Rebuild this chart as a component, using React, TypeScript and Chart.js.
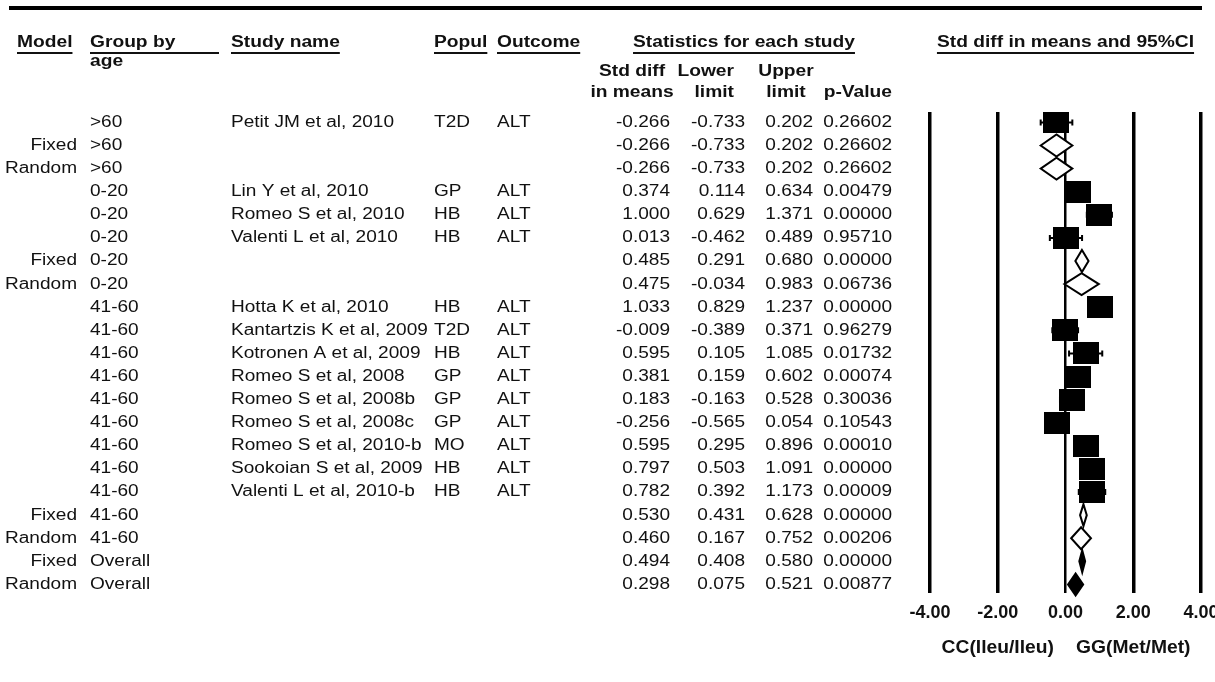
import React, { useEffect, useRef } from 'react';
import { Chart, registerables } from 'chart.js';

Chart.register(...registerables);

// ---------- data ----------
const models = ['', 'Fixed', 'Random', '', '', '', 'Fixed', 'Random', '', '', '', '', '', '', '', '', '', 'Fixed', 'Random', 'Fixed', 'Random'];
const groups = ['>60', '>60', '>60', '0-20', '0-20', '0-20', '0-20', '0-20', '41-60', '41-60', '41-60', '41-60', '41-60', '41-60', '41-60', '41-60', '41-60', '41-60', '41-60', 'Overall', 'Overall'];
const studies = ['Petit JM et al, 2010', '', '', 'Lin Y et al, 2010', 'Romeo S et al, 2010', 'Valenti L et al, 2010', '', '', 'Hotta K et al, 2010', 'Kantartzis K et al, 2009', 'Kotronen A et al, 2009', 'Romeo S et al, 2008', 'Romeo S et al, 2008b', 'Romeo S et al, 2008c', 'Romeo S et al, 2010-b', 'Sookoian S et al, 2009', 'Valenti L et al, 2010-b', '', '', '', ''];
const populations = ['T2D', '', '', 'GP', 'HB', 'HB', '', '', 'HB', 'T2D', 'HB', 'GP', 'GP', 'GP', 'MO', 'HB', 'HB', '', '', '', ''];
const outcomes = ['ALT', '', '', 'ALT', 'ALT', 'ALT', '', '', 'ALT', 'ALT', 'ALT', 'ALT', 'ALT', 'ALT', 'ALT', 'ALT', 'ALT', '', '', '', ''];
const stdDiff = [-0.266, -0.266, -0.266, 0.374, 1.0, 0.013, 0.485, 0.475, 1.033, -0.009, 0.595, 0.381, 0.183, -0.256, 0.595, 0.797, 0.782, 0.53, 0.46, 0.494, 0.298];
const lowerLimit = [-0.733, -0.733, -0.733, 0.114, 0.629, -0.462, 0.291, -0.034, 0.829, -0.389, 0.105, 0.159, -0.163, -0.565, 0.295, 0.503, 0.392, 0.431, 0.167, 0.408, 0.075];
const upperLimit = [0.202, 0.202, 0.202, 0.634, 1.371, 0.489, 0.68, 0.983, 1.237, 0.371, 1.085, 0.602, 0.528, 0.054, 0.896, 1.091, 1.173, 0.628, 0.752, 0.58, 0.521];
const pValues = ['0.26602', '0.26602', '0.26602', '0.00479', '0.00000', '0.95710', '0.00000', '0.06736', '0.00000', '0.96279', '0.01732', '0.00074', '0.30036', '0.10543', '0.00010', '0.00000', '0.00009', '0.00000', '0.00206', '0.00000', '0.00877'];
const xTickValues = [-4, -2, 0, 2, 4];
const xTickLabels = ['-4.00', '-2.00', '0.00', '2.00', '4.00'];
const sideLabels = ['CC(Ileu/Ileu)', 'GG(Met/Met)'];
const sideLabelValues = [-2, 2];

// ---------- layout / style ----------
const W = 1215;
const H = 682;
const FAMILY = '"Liberation Sans", Arial, sans-serif';
const REG = `16px ${FAMILY}`;
const BOLD = `bold 16px ${FAMILY}`;
const SX_REG = 1.19;
const SX_BOLD = 1.2;
const COL = { modelRight: 77, group: 90, study: 231, popul: 434, outcome: 497, est: 670, lo: 745, hi: 813, p: 892 };
const SQ_W = 26;
const SQ_H = 22;
const DIA_H = 22;

function txt(ctx: CanvasRenderingContext2D, s: string, x: number, y: number, align: CanvasTextAlign, font: string, sx: number, underline = false) {
  ctx.save();
  ctx.font = font;
  ctx.textBaseline = 'middle';
  ctx.textAlign = align;
  ctx.fillStyle = '#111';
  ctx.translate(x, y);
  ctx.scale(sx, 1);
  ctx.fillText(s, 0, 0);
  const w = ctx.measureText(s).width;
  ctx.restore();
  if (underline) {
    const tw = w * sx;
    let x0 = x;
    if (align === 'center') x0 = x - tw / 2;
    else if (align === 'right') x0 = x - tw;
    ctx.save();
    ctx.strokeStyle = '#111';
    ctx.lineWidth = 2;
    ctx.beginPath();
    ctx.moveTo(x0, y + 10);
    ctx.lineTo(x0 + tw, y + 10);
    ctx.stroke();
    ctx.restore();
  }
}

const forestPlugin = {
  id: 'forest',
  beforeDraw(chart: any) {
    const ctx = chart.ctx;
    ctx.save();
    ctx.fillStyle = '#fff';
    ctx.fillRect(0, 0, chart.width, chart.height);
    ctx.restore();
  },
  beforeDatasetsDraw(chart: any) {
    const ctx = chart.ctx;
    const xs = chart.scales.x;
    const ys = chart.scales.y;
    ctx.save();
    ctx.strokeStyle = '#000';
    ctx.lineWidth = 2;
    studies.forEach((s, i) => {
      if (!s) return;
      const y = ys.getPixelForValue(i);
      const a = xs.getPixelForValue(lowerLimit[i]);
      const b = xs.getPixelForValue(upperLimit[i]);
      ctx.beginPath();
      ctx.moveTo(a, y);
      ctx.lineTo(b, y);
      ctx.moveTo(a, y - 3);
      ctx.lineTo(a, y + 3);
      ctx.moveTo(b, y - 3);
      ctx.lineTo(b, y + 3);
      ctx.stroke();
    });
    ctx.restore();
  },
  afterDatasetsDraw(chart: any) {
    const ctx = chart.ctx;
    const xs = chart.scales.x;
    const ys = chart.scales.y;
    ctx.save();
    ctx.lineWidth = 2;
    ctx.strokeStyle = '#000';
    models.forEach((m, i) => {
      if (!m) return;
      const y = ys.getPixelForValue(i);
      const a = xs.getPixelForValue(lowerLimit[i]);
      const b = xs.getPixelForValue(upperLimit[i]);
      const c = xs.getPixelForValue(stdDiff[i]);
      ctx.beginPath();
      ctx.moveTo(a, y);
      ctx.lineTo(c, y - DIA_H / 2);
      ctx.lineTo(b, y);
      ctx.lineTo(c, y + DIA_H / 2);
      ctx.closePath();
      ctx.fillStyle = groups[i] === 'Overall' ? '#000' : '#fff';
      ctx.fill();
      ctx.stroke();
    });
    ctx.restore();
  },
  afterDraw(chart: any) {
    const ctx = chart.ctx;
    const xs = chart.scales.x;
    const ys = chart.scales.y;

    // top rule
    ctx.save();
    ctx.strokeStyle = '#000';
    ctx.lineWidth = 4;
    ctx.beginPath();
    ctx.moveTo(9, 8);
    ctx.lineTo(1202, 8);
    ctx.stroke();
    ctx.restore();

    // headers
    txt(ctx, 'Model', 17, 43, 'left', BOLD, SX_BOLD, true);
    txt(ctx, 'Group by', COL.group, 43, 'left', BOLD, SX_BOLD);
    ctx.save();
    ctx.strokeStyle = '#111';
    ctx.lineWidth = 2;
    ctx.beginPath();
    ctx.moveTo(COL.group, 53);
    ctx.lineTo(219, 53);
    ctx.stroke();
    ctx.restore();
    txt(ctx, 'age', COL.group, 62, 'left', BOLD, SX_BOLD);
    txt(ctx, 'Study name', COL.study, 43, 'left', BOLD, SX_BOLD, true);
    txt(ctx, 'Popul', COL.popul, 43, 'left', BOLD, SX_BOLD, true);
    txt(ctx, 'Outcome', COL.outcome, 43, 'left', BOLD, SX_BOLD, true);
    txt(ctx, 'Statistics for each study', 744, 43, 'center', BOLD, SX_BOLD, true);
    txt(ctx, 'Std diff in means and 95%CI', xs.getPixelForValue(0), 43, 'center', BOLD, SX_BOLD, true);
    txt(ctx, 'Std diff', 632, 72, 'center', BOLD, SX_BOLD);
    txt(ctx, 'in means', 632, 93, 'center', BOLD, SX_BOLD);
    txt(ctx, 'Lower', 734, 72, 'right', BOLD, SX_BOLD);
    txt(ctx, 'limit', 734, 93, 'right', BOLD, SX_BOLD);
    txt(ctx, 'Upper', 786, 72, 'center', BOLD, SX_BOLD);
    txt(ctx, 'limit', 786, 93, 'center', BOLD, SX_BOLD);
    txt(ctx, 'p-Value', COL.p, 93, 'right', BOLD, SX_BOLD);

    // rows
    stdDiff.forEach((v, i) => {
      const y = ys.getPixelForValue(i);
      if (models[i]) txt(ctx, models[i], COL.modelRight, y, 'right', REG, SX_REG);
      txt(ctx, groups[i], COL.group, y, 'left', REG, SX_REG);
      if (studies[i]) txt(ctx, studies[i], COL.study, y, 'left', REG, SX_REG);
      if (populations[i]) txt(ctx, populations[i], COL.popul, y, 'left', REG, SX_REG);
      if (outcomes[i]) txt(ctx, outcomes[i], COL.outcome, y, 'left', REG, SX_REG);
      txt(ctx, v.toFixed(3), COL.est, y, 'right', REG, SX_REG);
      txt(ctx, lowerLimit[i].toFixed(3), COL.lo, y, 'right', REG, SX_REG);
      txt(ctx, upperLimit[i].toFixed(3), COL.hi, y, 'right', REG, SX_REG);
      txt(ctx, pValues[i], COL.p, y, 'right', REG, SX_REG);
    });

    // side labels under the axis
    sideLabels.forEach((s, k) => {
      txt(ctx, s, xs.getPixelForValue(sideLabelValues[k]), 648, 'center', `bold 18px ${FAMILY}`, 1.07);
    });
  },
};

export default function App() {
  const ref = useRef<HTMLCanvasElement | null>(null);

  useEffect(() => {
    const canvas = ref.current;
    if (!canvas) return;
    const sq = document.createElement('canvas');
    sq.width = SQ_W;
    sq.height = SQ_H;
    const sctx = sq.getContext('2d');
    if (sctx) {
      sctx.fillStyle = '#000';
      sctx.fillRect(0, 0, SQ_W, SQ_H);
    }
    const studyPoints = studies
      .map((s, i) => (s ? { x: stdDiff[i], y: i } : null))
      .filter((p) => p !== null);

    const chart = new Chart(canvas, {
      type: 'scatter',
      data: {
        datasets: [
          {
            data: studyPoints as any,
            pointStyle: sq as any,
            pointRadius: 13,
            backgroundColor: '#000',
            borderColor: '#000',
          },
        ],
      },
      options: {
        responsive: false,
        animation: false,
        devicePixelRatio: 1,
        layout: { padding: { left: 930, right: 14, top: 112, bottom: 49 } },
        plugins: { legend: { display: false }, tooltip: { enabled: false } },
        scales: {
          x: {
            type: 'linear',
            min: -4,
            max: 4,
            afterBuildTicks: (scale: any) => {
              scale.ticks = xTickValues.map((v) => ({ value: v }));
            },
            afterFit: (scale: any) => {
              scale.height = 40;
              scale.paddingLeft = 0;
              scale.paddingRight = 0;
            },
            ticks: {
              autoSkip: false,
              maxRotation: 0,
              padding: 9,
              color: '#111',
              font: { family: FAMILY, size: 18, weight: 'bold' },
              callback: (_v: any, idx: number) => xTickLabels[idx],
            },
            grid: {
              color: '#000',
              lineWidth: (c: any) => (c.tick && c.tick.value === 0 ? 2.5 : 3.5),
              drawTicks: false,
            },
            border: { display: false },
          },
          y: {
            type: 'linear',
            reverse: true,
            min: -0.45,
            max: 20.37,
            display: false,
          },
        },
      } as any,
      plugins: [forestPlugin],
    });
    return () => chart.destroy();
  }, []);

  return (
    <div style={{ position: 'absolute', left: 0, top: 0, width: W, height: H, background: '#fff' }}>
      <canvas ref={ref} width={W} height={H} style={{ display: 'block', width: W, height: H }} />
    </div>
  );
}
